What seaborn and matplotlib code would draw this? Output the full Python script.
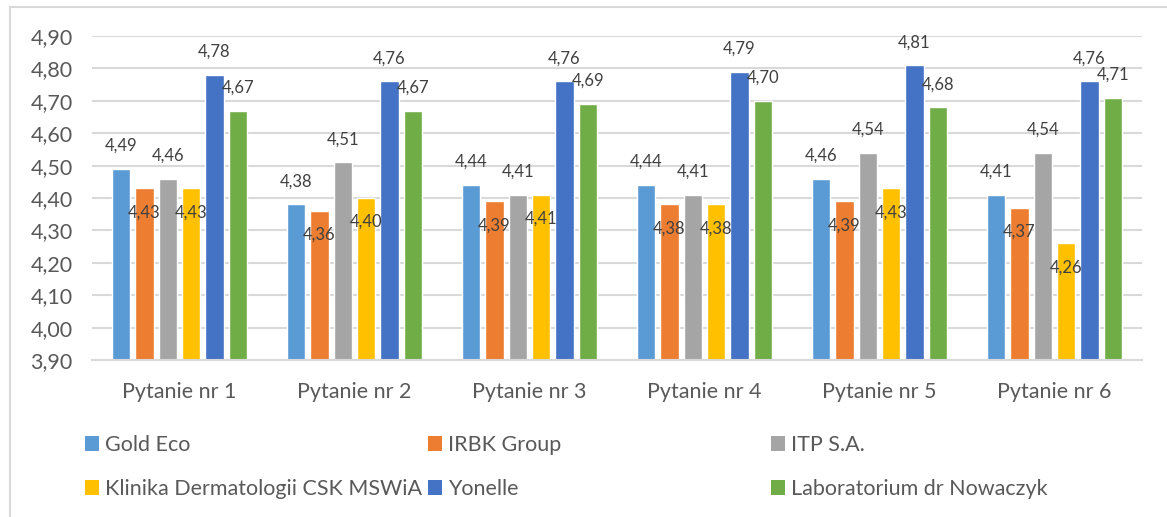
import matplotlib
matplotlib.use("Agg")
import matplotlib.pyplot as plt
from matplotlib.lines import Line2D
from matplotlib.patches import Patch
from matplotlib.ticker import FuncFormatter, MultipleLocator
import seaborn as sns
import pandas as pd

# categories and series
pytania = ["Pytanie nr 1", "Pytanie nr 2", "Pytanie nr 3",
           "Pytanie nr 4", "Pytanie nr 5", "Pytanie nr 6"]
firmy = ["Gold Eco", "IRBK Group", "ITP S.A.",
         "Klinika Dermatologii CSK MSWiA", "Yonelle", "Laboratorium dr Nowaczyk"]

gold_eco = [4.49, 4.38, 4.44, 4.44, 4.46, 4.41]
irbk_group = [4.43, 4.36, 4.39, 4.38, 4.39, 4.37]
itp_sa = [4.46, 4.51, 4.41, 4.41, 4.54, 4.54]
klinika = [4.43, 4.40, 4.41, 4.38, 4.43, 4.26]
yonelle = [4.78, 4.76, 4.76, 4.79, 4.81, 4.76]
laboratorium = [4.67, 4.67, 4.69, 4.70, 4.68, 4.71]

colors = ["#5B9BD5", "#ED7D31", "#A5A5A5", "#FFC000", "#4472C4", "#70AD47"]

series = [gold_eco, irbk_group, itp_sa, klinika, yonelle, laboratorium]
rows = []
for firma, vals in zip(firmy, series):
    for p, v in zip(pytania, vals):
        rows.append({"Pytanie": p, "Firma": firma, "Ocena": v})
df = pd.DataFrame(rows)

sns.set_style("white")
plt.rcParams["font.family"] = ["Lato", "DejaVu Sans"]
text_color = "#595959"
grid_color = "#D9D9D9"

fig = plt.figure(figsize=(11.67, 5.17), dpi=100)
ax = fig.add_axes([92 / 1167, 1 - 360 / 517, 1050 / 1167, 324 / 517])

sns.barplot(data=df, x="Pytanie", y="Ocena", hue="Firma", order=pytania,
            hue_order=firmy, palette=colors, width=0.8, gap=0.22,
            legend=False, ax=ax, saturation=1)

ax.set_ylim(3.9, 4.9)
ax.set_xlim(-0.5, len(pytania) - 0.5)
ax.yaxis.set_major_locator(MultipleLocator(0.1))
ax.yaxis.set_major_formatter(FuncFormatter(lambda v, p: f"{v:.2f}".replace(".", ",")))
ax.set_axisbelow(True)
ax.grid(axis="y", color=grid_color, linewidth=1.5)
for s in ["left", "right", "top"]:
    ax.spines[s].set_visible(False)
ax.spines["bottom"].set_color(grid_color)
ax.spines["bottom"].set_linewidth(1.5)
ax.tick_params(axis="both", length=0, labelsize=15.5, colors=text_color)
ax.tick_params(axis="x", pad=16)
ax.tick_params(axis="y", pad=14)
ax.set_xlabel("")
ax.set_ylabel("")

# data labels: some above the bar, some below the top
below = {1, 3}
for i, cont in enumerate(ax.containers):
    for bar in cont:
        h = bar.get_height()
        dy = -24 if i in below else 23
        ax.annotate(f"{h:.2f}".replace(".", ","),
                    xy=(bar.get_x() + bar.get_width() / 2, h),
                    xytext=(0, dy), textcoords="offset pixels",
                    ha="center", va="center", fontsize=12, color="#404040")

# legend: 3 equal-width columns, 2 rows
col_x = [85, 428, 771]
row_y = [445, 489]
for k, (firma, c) in enumerate(zip(firmy, colors)):
    x = col_x[k % 3] / 1167
    y = 1 - row_y[k // 3] / 517
    fig.legend(handles=[Patch(facecolor=c, edgecolor="none")], labels=[firma],
               loc="center left", bbox_to_anchor=(x, y), frameon=False,
               fontsize=15.5, labelcolor=text_color, borderpad=0,
               borderaxespad=0, handlelength=0.65, handleheight=0.65,
               handletextpad=0.3)

# chart border (left and top visible)
fig.add_artist(Line2D([9.5 / 1167, 9.5 / 1167], [0, 1 - 6.5 / 517],
                      color=grid_color, linewidth=1.5))
fig.add_artist(Line2D([9.5 / 1167, 1], [1 - 6.5 / 517, 1 - 6.5 / 517],
                      color=grid_color, linewidth=1.5))

fig.savefig("out.png", dpi=100)
